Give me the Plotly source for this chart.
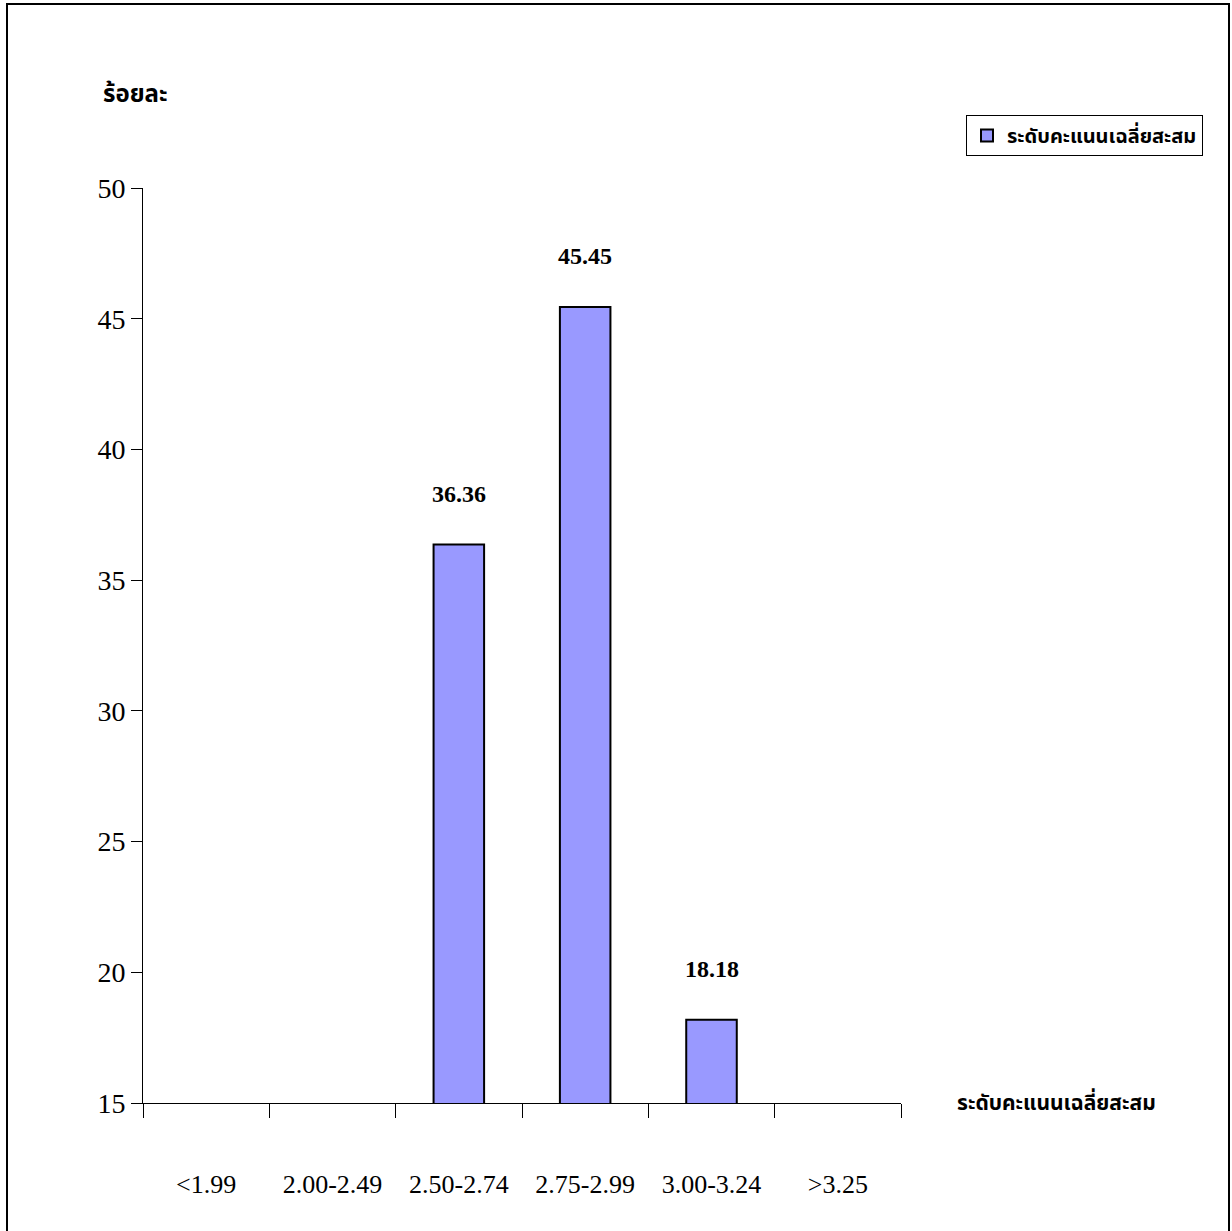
import plotly.graph_objects as go

categories = ["<1.99", "2.00-2.49", "2.50-2.74", "2.75-2.99", "3.00-3.24", ">3.25"]
values = [0, 0, 36.36, 45.45, 18.18, 0]
value_labels = ["", "", "36.36", "45.45", "18.18", ""]
series_name = "ระดับคะแนนเฉลี่ยสะสม"
y_title = "ร้อยละ"
x_title = "ระดับคะแนนเฉลี่ยสะสม"
y_ticks = [15, 20, 25, 30, 35, 40, 45, 50]

SERIF = "Liberation Serif, Times New Roman, serif"
THAI = "Noto Sans Thai, Noto Sans, DejaVu Sans, sans-serif"

L, T, PW, PH = 143, 188, 758, 915
W, H = 1232, 1231

fig = go.Figure()
fig.add_trace(go.Bar(
    x=categories, y=values, name="<b>" + series_name + "</b>",
    marker=dict(color="#9999FF", line=dict(color="black", width=2)),
    width=0.4, showlegend=True,
))

annotations = []
for c, v, t in zip(categories, values, value_labels):
    if t:
        annotations.append(dict(x=c, y=v, text="<b>" + t + "</b>", showarrow=False,
                                xref="x", yref="y", yshift=51, yanchor="middle",
                                font=dict(family=SERIF, size=24, color="black")))
annotations.append(dict(x=(135 - L) / PW, y=(T + PH - 95) / PH, xref="paper", yref="paper",
                        text="<b>" + y_title + "</b>",
                        showarrow=False, xanchor="center", yanchor="middle",
                        font=dict(family=THAI, size=24, color="black")))
annotations.append(dict(x=(955 - L) / PW, y=0.0, xref="paper", yref="paper", text="<b>" + x_title + "</b>",
                        showarrow=False, xanchor="left", yanchor="middle",
                        font=dict(family=THAI, size=21, color="black")))

fig.update_layout(
    width=W, height=H,
    margin=dict(l=L, r=W - L - PW, t=T, b=H - T - PH),
    paper_bgcolor="white", plot_bgcolor="white",
    bargap=0.6,
    showlegend=True,
    legend=dict(x=(966 - L) / PW, y=(T + PH - 115) / PH, xanchor="left", yanchor="top",
                bordercolor="black", borderwidth=1, bgcolor="white",
                font=dict(family=THAI, size=20, color="black")),
    annotations=annotations,
    shapes=[dict(type="rect", xref="paper", yref="paper",
                 x0=(7 - L) / PW, x1=(1229 - L) / PW,
                 y0=-(H + 20 - T - PH) / PH, y1=(T + PH - 4) / PH,
                 line=dict(color="black", width=2), fillcolor="rgba(0,0,0,0)", layer="below")],
    xaxis=dict(showline=True, linecolor="black", linewidth=1, showgrid=False,
               ticks="outside", ticklen=14, tickcolor="black", tickson="boundaries",
               ticklabelstandoff=58,
               tickfont=dict(family=SERIF, size=26, color="black")),
    yaxis=dict(range=[15, 50], tickvals=y_ticks, showline=True, linecolor="black", linewidth=1,
               showgrid=False, zeroline=False, ticks="outside", ticklen=11, tickcolor="black",
               tickfont=dict(family=SERIF, size=28, color="black")),
)

fig.write_html("out.html", config={"displayModeBar": False},
               post_script="document.body.style.margin='0';document.body.style.overflow='hidden';")
